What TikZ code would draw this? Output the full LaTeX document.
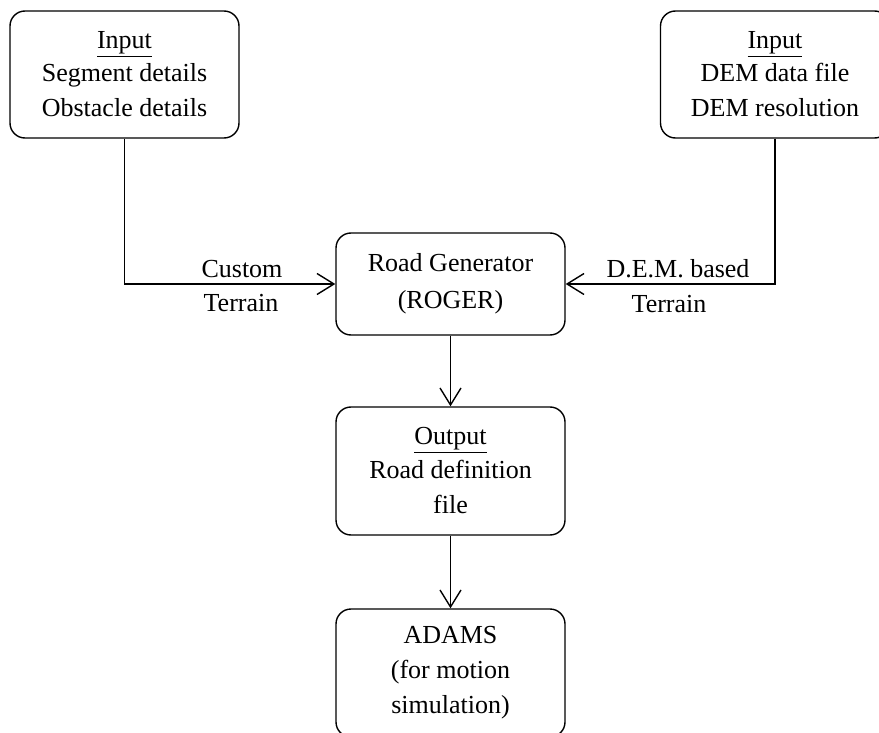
\documentclass[tikz,border=0pt]{standalone}
\usepackage{fontspec}
\setmainfont{Liberation Serif}
\usetikzlibrary{arrows.meta}
\begin{document}
\begin{tikzpicture}[x=1pt,y=-1pt,
  box/.style={draw,line width=1.4pt,rounded corners=15pt,minimum width=229pt,inner sep=0pt,align=center,font=\fontsize{26}{35}\selectfont},
  lbl/.style={inner sep=0pt,font=\fontsize{26}{34}\selectfont},
  arr/.style={line width=1.4pt,-{Straight Barb[length=17pt,width=21pt,line width=1.4pt]}}]
\useasboundingbox (0,0) rectangle (879,733);
\clip (0,0) rectangle (879,733);
\node[box,minimum height=127pt] (in1) at (124.5,74.5) {\underline{Input}\\[-2pt]Segment details\\Obstacle details};
\node[box,minimum height=127pt] (in2) at (775,74.5) {\underline{Input}\\[-2pt]DEM data file\\DEM resolution};
\node[box,minimum height=102pt] (road) at (450.5,284) {Road Generator\\[2pt](ROGER)};
\node[box,minimum height=128pt] (out) at (450.5,471) {\underline{Output}\\[-1pt]Road definition\\file};
\node[box,minimum height=128pt] (adams) at (450.5,673) {ADAMS\\(for motion\\simulation)};
\draw[arr] (in1.south) |- (road.west);
\draw[arr] (in2.south) |- (road.east);
\draw[arr] (road.south) -- (out.north);
\draw[arr] (out.south) -- (adams.north);
\node[lbl] (l1) at (242,269) {Custom};
\node[lbl] (l2) at (241,303) {Terrain};
\node[lbl] (r1) at (678,269) {D.E.M. based};
\node[lbl] (r2) at (669,304) {Terrain};
\end{tikzpicture}
\end{document}
